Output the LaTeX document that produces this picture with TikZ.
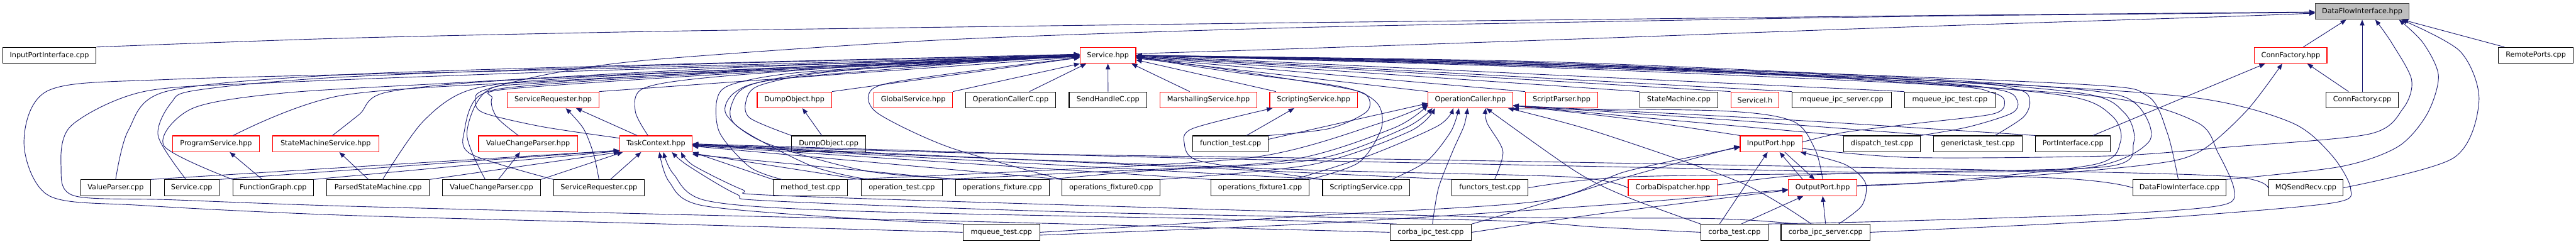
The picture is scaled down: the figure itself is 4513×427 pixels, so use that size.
\documentclass[tikz,border=0pt]{standalone}
\usepackage{fontspec}
\setmainfont{DejaVu Sans}
\usetikzlibrary{arrows.meta}
\definecolor{edgeblue}{RGB}{25,25,112}
\tikzset{
  file/.style={draw=black, line width=1.2pt, minimum height=28pt, inner sep=0pt, font=\fontsize{12.4}{14}\selectfont},
  redfile/.style={file, draw=red},
  rootfile/.style={file, draw=black!75, fill=black!25},
  inc/.style={draw=edgeblue, line width=1pt, -{Triangle[length=10pt,width=8pt]}}
}

\begin{document}
\begin{tikzpicture}[x=1pt, y=-1pt]
    \useasboundingbox (0,0) rectangle (4513,427);

    % Arquivo raiz
    \node[rootfile, minimum width=164pt] (dfih) at (4138.4,20) {DataFlowInterface.hpp};

    % Arquivos com borda vermelha
    \foreach \nm/\x/\y/\w/\txt in {
        srvh/1941/97/97.6/Service.hpp, cfh/4013.2/97/126.8/ConnFactory.hpp,
        srqh/969.2/175/160.4/ServiceRequester.hpp, doh/1391.8/175/130.5/DumpObject.hpp,
        gsh/1600/175/137.7/GlobalService.hpp, msh/2117.2/175/170/MarshallingService.hpp,
        ssh/2301.3/175/153.5/ScriptingService.hpp, och/2576/175/148/OperationCaller.hpp,
        sph/2735.8/175/126.7/ScriptParser.hpp, sih/3074.6/175/84.6/ServiceI.h,
        psh/378.5/252/152.3/ProgramService.hpp, smsh/570.5/252/185.7/StateMachineService.hpp,
        vcph/925.2/252/173.4/ValueChangeParser.hpp, tch/1149.2/252/127/TaskContext.hpp,
        iph/3102.7/252/108/InputPort.hpp,
        cdh/2930.6/329/156.2/CorbaDispatcher.hpp, oph/3193.2/329/120/OutputPort.hpp}
        \node[redfile, minimum width=\w pt] (\nm) at (\x,\y) {\txt};

    % Arquivos comuns
    \foreach \nm/\x/\y/\w/\txt in {
        ipicpp/86.5/97/164/InputPortInterface.cpp, rpcpp/4442.6/97/131.6/RemotePorts.cpp,
        occcpp/1770.5/175/157.7/OperationCallerC.cpp, shccpp/1941.2/175/136.3/SendHandleC.cpp,
        smcpp/2941.2/175/137.3/StateMachine.cpp, mqiscpp/3226.5/175/173.5/mqueue\_ipc\_server.cpp,
        mqitcpp/3416/175/159/mqueue\_ipc\_test.cpp, cfcpp/4138.4/175/126.8/ConnFactory.cpp,
        docpp/1451.7/252/129.3/DumpObject.cpp, ftcpp/2155.9/252/131.7/function\_test.cpp,
        dtcpp/3297.2/252/134.6/dispatch\_test.cpp, gtcpp/3465.1/252/155/generictask\_test.cpp,
        picpp/3631.8/252/130.9/PortInterface.cpp,
        vpcpp/202.6/329/122.8/ValueParser.cpp, srvcpp/335.8/329/96/Service.cpp,
        fgcpp/478.5/329/141/FunctionGraph.cpp, psmcpp/662.4/329/180.1/ParsedStateMachine.cpp,
        vcpcpp/861.1/329/172.2/ValueChangeParser.cpp, srqcpp/1049.3/329/158.7/ServiceRequester.cpp,
        mtcpp/1419.8/329/130.5/method\_test.cpp, otcpp/1579.9/329/142.3/operation\_test.cpp,
        ofcpp/1755.8/329/164.2/operations\_fixture.cpp, of0cpp/1946.6/329/172.2/operations\_fixture0.cpp,
        of1cpp/2207.6/329/172.4/operations\_fixture1.cpp, sscpp/2393.2/329/152.3/ScriptingService.cpp,
        fttcpp/2610.4/329/133.4/functors\_test.cpp, dficpp/3818.2/329/162.3/DataFlowInterface.cpp,
        mqsrcpp/4039.7/329/130.7/MQSendRecv.cpp,
        mqtcpp/1754.4/407/134.8/mqueue\_test.cpp, citcpp/2506.6/407/142.8/corba\_ipc\_test.cpp,
        ctcpp/3038.6/407/117.5/corba\_test.cpp, ciscpp/3198.3/407/156.1/corba\_ipc\_server.cpp}
        \node[file, minimum width=\w pt] (\nm) at (\x,\y) {\txt};

    % Dependentes de DataFlowInterface.hpp
    \draw[inc] plot[smooth] coordinates {(ipicpp.north east) (600,67) (1150,55) (1700,47) (2250,40) (2800,34) (3400,27) ([yshift=-1pt]dfih.west)};
    \draw[inc] plot[smooth] coordinates {([yshift=3pt]srvh.east) (2250,86) (2800,67) (3350,47) (3900,29) ([yshift=-3pt]dfih.west)};
    \draw[inc] plot[smooth] coordinates {([yshift=10pt]tch.west) (950,222) (848,198) (833,177) (848,158) (971,128) (1150,104) (1650,70) (2250,49) (2800,38) (3400,28) ([yshift=-2pt]dfih.west)};
    \draw[inc] ([xshift=22pt]cfh.north) -- ([xshift=-28pt]dfih.south);
    \draw[inc] (cfcpp.north) -- (dfih.south);
    \draw[inc] ([xshift=-55pt]rpcpp.north) -- ([xshift=-12pt]dfih.south east);
    \draw[inc] plot[smooth] coordinates {([yshift=-8pt]iph.east) (3350,276) (3700,273) (3900,258) (4150,235) (4210,190) (4225,140) (4190,75) ([xshift=23pt]dfih.south)};
    \draw[inc] plot[smooth] coordinates {(dficpp.north east) (4100,292) (4201,257) (4252,200) (4272,133) (4245,75) ([xshift=-18pt]dfih.south east)};
    \draw[inc] plot[smooth] coordinates {(mqsrcpp.east) (4298,277) (4343,177) (4310,90) ([xshift=-14pt]dfih.south east)};

    % Dependentes de ConnFactory.hpp
    \draw[inc] ([xshift=-24pt]cfcpp.north) -- ([xshift=29pt]cfh.south);
    \draw[inc] ([xshift=35pt]picpp.north) -- ([xshift=-45pt]cfh.south);
    \draw[inc] plot[smooth] coordinates {([yshift=4pt]oph.east) (3450,316) (3750,290) (3851,267) (3935,195) ([xshift=-15pt]cfh.south)};

    % Dependentes de Service.hpp (pela esquerda)
    \draw[inc] plot[smooth] coordinates {(vpcpp.north) (225,228) (292,160) (600,131) (1200,112) ([yshift=2pt]srvh.west)};
    \draw[inc] plot[smooth] coordinates {([xshift=-10pt]srvcpp.north) (277,238) (300,180) (345,158) (600,135) (1200,113) ([yshift=1pt]srvh.west)};
    \draw[inc] plot[smooth] coordinates {(fgcpp.north west) (287,255) (337,190) (497,163) (800,145) (1300,118) (srvh.west)};
    \draw[inc] plot[smooth] coordinates {([xshift=30pt]psh.north) (600,167) (1000,140) (1500,115) (srvh.west)};
    \draw[inc] plot[smooth] coordinates {([xshift=12pt]smsh.north) (630,200) (676,162) (900,140) (1500,113) (srvh.west)};
    \draw[inc] plot[smooth] coordinates {([xshift=8pt]psmcpp.north) (741,213) (825,157) (1000,137) (1500,113) ([yshift=-1pt]srvh.west)};
    \draw[inc] plot[smooth] coordinates {([xshift=-11pt]vcpcpp.north) (818,235) (852,160) (950,145) (1400,118) ([yshift=-1pt]srvh.west)};
    \draw[inc] plot[smooth] coordinates {([xshift=-17pt]vcph.north) (870,205) (862,172) (900,155) (1400,122) ([yshift=-2pt]srvh.west)};
    \draw[inc] plot[smooth] coordinates {(srqcpp.north west) (825,270) (814,227) (841,167) (950,148) (1400,120) ([yshift=-2pt]srvh.west)};
    \draw[inc] plot[smooth] coordinates {([xshift=-14pt]tch.north) (1113,195) (1127,155) (1250,135) (1600,110) ([yshift=-2pt]srvh.west)};
    \draw[inc] plot[smooth] coordinates {(docpp.north west) (1314,207) (1307,177) (1330,150) (1444,127) (1700,108) ([yshift=-2pt]srvh.west)};
    \draw[inc] plot[smooth] coordinates {([xshift=-50pt]mtcpp.north) (1314,293) (1261,233) (1256,175) (1282,148) (1400,127) (1700,108) ([yshift=-1pt]srvh.west)};
    \draw[inc] plot[smooth] coordinates {([xshift=-60pt]otcpp.north) (1420,290) (1290,220) (1285,175) (1320,147) (1450,125) (1750,107) (srvh.west)};
    \draw[inc] plot[smooth] coordinates {([xshift=-60pt]ofcpp.north) (1520,300) (1340,250) (1272,200) (1290,160) (1370,138) (1700,110) ([yshift=1pt]srvh.west)};
    \draw[inc] plot[smooth] coordinates {(of0cpp.north west) (1663,258) (1540,200) (1522,165) (1560,145) (1750,118) ([yshift=-4pt]srvh.west)};
    \draw[inc] plot[smooth] coordinates {(mqtcpp.west) (1150,392) (600,377) (250,360) (86,343) (42,250) (86,158) (300,139) (900,124) (1500,108) ([yshift=1pt]srvh.west)};
    \draw[inc] plot[smooth] coordinates {(citcpp.west) (1700,388) (1150,375) (600,361) (300,350) (130,343) (107,293) (125,220) (254,160) (500,144) (1000,125) (1500,110) ([yshift=2pt]srvh.west)};
    \draw[inc] (srqh.north east) -- ([yshift=-3pt]srvh.west);
    \draw[inc] (doh.north east) -- ([yshift=-4pt]srvh.west);
    \draw[inc] (gsh.north east) -- (srvh.south west);
    \draw[inc] ([xshift=33pt]occcpp.north) -- ([xshift=-38pt]srvh.south);
    \draw[inc] (shccpp.north) -- (srvh.south);

    % Dependentes de Service.hpp (pela direita)
    \draw[inc] ([xshift=-33pt]msh.north) -- ([xshift=-8pt]srvh.south east);
    \draw[inc] ([xshift=-66pt]ssh.north) -- ([yshift=-8pt]srvh.east);
    \foreach \a/\s in {och/-5, sph/-4, smcpp/-3, sih/-2, mqiscpp/-1, mqitcpp/0}
        \draw[inc] (\a.north west) -- ([yshift=\s pt]srvh.east);
    \draw[inc] plot[smooth] coordinates {(of1cpp.north east) (2380,285) (2420,225) (2412,180) (2350,152) (2150,125) ([yshift=-3pt]srvh.east)};
    \draw[inc] plot[smooth] coordinates {(ftcpp.north east) (2330,225) (2395,195) (2392,165) (2330,150) (2150,122) ([yshift=-2pt]srvh.east)};
    \draw[inc] plot[smooth] coordinates {([xshift=-2pt]dficpp.north) (3797,233) (3762,168) (3650,148) (3000,122) (2300,103) (srvh.east)};
    \draw[inc] plot[smooth] coordinates {([xshift=30pt]gtcpp.north) (3545,205) (3556,177) (3535,157) (3400,142) (2700,115) (srvh.east)};
    \draw[inc] plot[smooth] coordinates {(dtcpp.north east) (3450,222) (3525,198) (3534,176) (3505,158) (3350,142) (2700,116) (srvh.east)};
    \draw[inc] plot[smooth] coordinates {([yshift=3pt]iph.east) (3230,232) (3350,217) (3490,200) (3512,180) (3492,163) (3380,148) (2700,118) (srvh.east)};
    \draw[inc] plot[smooth] coordinates {([yshift=3pt]oph.east) (3400,318) (3670,288) (3715,248) (3700,203) (3620,168) (3300,140) (2700,113) (srvh.east)};
    \draw[inc] plot[smooth] coordinates {([yshift=5pt]cdh.east) (3130,309) (3300,302) (3690,292) (3738,250) (3722,198) (3645,163) (3300,136) (2700,110) (srvh.east)};
    \draw[inc] plot[smooth] coordinates {(fttcpp.east) (2850,310) (3300,303) (3650,295) (3765,248) (3742,182) (3655,158) (3300,134) (2700,108) (srvh.east)};
    \draw[inc] plot[smooth] coordinates {(ciscpp.east) (3600,392) (3850,377) (4090,355) (4118,330) (4085,272) (4015,215) (3850,172) (3500,147) (2700,112) (srvh.east)};
    \draw[inc] plot[smooth] coordinates {(ctcpp.north east) (3300,388) (3700,375) (3890,360) (3914,333) (3886,268) (3850,215) (3700,172) (3300,142) (2700,110) (srvh.east)};

    % Dependentes de ServiceRequester.hpp, DumpObject.hpp, ProgramService.hpp ...
    \draw[inc] ([xshift=-33pt]tch.north) -- ([xshift=40pt]srqh.south);
    \draw[inc] plot[smooth] coordinates {(srqcpp.north) (1040,270) (1022,225) ([xshift=22pt]srqh.south)};
    \draw[inc] ([xshift=-12pt]docpp.north) -- ([xshift=14pt]doh.south);
    \draw[inc] ([xshift=-19pt]fgcpp.north) -- ([xshift=24pt]psh.south);
    \draw[inc] ([xshift=-17pt]psmcpp.north) -- ([xshift=24pt]smsh.south);
    \draw[inc] ([xshift=12pt]vcpcpp.north) -- ([xshift=-14pt]vcph.south);

    % Dependentes de ScriptingService.hpp
    \draw[inc] ([xshift=28pt]ftcpp.north) -- ([xshift=-34pt]ssh.south);
    \draw[inc] plot[smooth] coordinates {(sscpp.north west) (2200,298) (2095,280) (2075,252) (2090,225) ([xshift=-72pt]ssh.south)};

    % Dependentes de TaskContext.hpp
    \draw[inc] (vpcpp.north east) -- ([yshift=3pt]tch.south west);
    \draw[inc] (srvcpp.north east) -- ([yshift=3pt]tch.south west);
    \draw[inc] (fgcpp.north east) -- ([yshift=2pt]tch.south west);
    \draw[inc] (psmcpp.north east) -- (tch.south west);
    \draw[inc] (vcpcpp.north east) -- ([xshift=6pt]tch.south west);
    \draw[inc] ([xshift=20pt]srqcpp.north) -- ([xshift=-26pt]tch.south);
    \draw[inc] plot[smooth] coordinates {(mqtcpp.north west) (1500,383) (1230,360) (1172,318) ([xshift=6pt]tch.south)};
    \draw[inc] plot[smooth] coordinates {([xshift=-60pt]citcpp.north) (2200,385) (1500,370) (1240,352) (1180,305) ([xshift=13pt]tch.south)};
    \draw[inc] plot[smooth] coordinates {(ctcpp.west) (2800,398) (2600,386) (1900,372) (1350,352) (1290,340) (1205,290) ([xshift=28pt]tch.south)};
    \draw[inc] plot[smooth] coordinates {([xshift=-50pt]ciscpp.north) (3000,383) (2600,380) (1900,360) (1350,342) (1300,332) (1215,290) ([xshift=44pt]tch.south)};
    \foreach \a/\s in {mtcpp/0, otcpp/-2, ofcpp/-4}
        \draw[inc] (\a.north west) -- ([yshift=\s pt]tch.south east);
    \foreach \a/\s in {of0cpp/-4, of1cpp/-3, sscpp/-2, fttcpp/-1}
        \draw[inc] (\a.north west) -- ([yshift=\s pt]tch.east);
    \draw[inc] plot[smooth] coordinates {(cdh.west) (2750,310) (2300,298) (1600,272) ([yshift=-2pt]tch.east)};
    \draw[inc] plot[smooth] coordinates {(dficpp.west) (3600,312) (3000,296) (2000,275) (tch.east)};
    \draw[inc] plot[smooth] coordinates {(mqsrcpp.west) (3905,309) (3500,298) (2500,280) (1700,268) ([yshift=-1pt]tch.east)};

    % Dependentes de OperationCaller.hpp
    \draw[inc] ([yshift=8pt]ftcpp.east) -- ([yshift=-6pt]och.west);
    \draw[inc] plot[smooth] coordinates {(mtcpp.north east) (1800,300) (2200,275) (2420,215) ([yshift=-8pt]och.west)};
    \draw[inc] plot[smooth] coordinates {(otcpp.north east) (1900,302) (2250,282) (2440,225) ([yshift=-9pt]och.west)};
    \draw[inc] plot[smooth] coordinates {(ofcpp.north east) (2000,300) (2300,280) (2460,225) ([xshift=8pt]och.south west)};
    \draw[inc] plot[smooth] coordinates {(of0cpp.north east) (2300,288) (2470,230) ([xshift=-62pt]och.south)};
    \draw[inc] plot[smooth] coordinates {([xshift=60pt]of1cpp.north) (2400,272) (2520,220) ([xshift=-30pt]och.south)};
    \draw[inc] plot[smooth] coordinates {([xshift=45pt]sscpp.north) (2500,282) (2542,230) ([xshift=-20pt]och.south)};
    \draw[inc] plot[smooth] coordinates {([xshift=3pt]citcpp.north) (2520,330) (2545,265) (2565,220) ([xshift=-5pt]och.south)};
    \draw[inc] plot[smooth] coordinates {([xshift=8pt]fttcpp.north) (2633,265) (2605,215) ([xshift=27pt]och.south)};
    \draw[inc] plot[smooth] coordinates {(ctcpp.north west) (2850,345) (2760,300) ([xshift=28pt]och.south)};
    \draw[inc] plot[smooth] coordinates {([xshift=-25pt]ciscpp.north) (3050,320) (2800,232) ([xshift=66pt]och.south)};
    \draw[inc] plot[smooth] coordinates {(oph.north) (3180,262) (3140,212) (3010,194) ([yshift=-1pt]och.south east)};
    \foreach \a/\x in {iph/2850, dtcpp/2900, gtcpp/3000, picpp/3100}
        \draw[inc] plot[smooth] coordinates {(\a.north west) (\x,208) ([yshift=-10pt]och.east)};

    % Dependentes de InputPort.hpp
    \draw[inc] plot[smooth] coordinates {(mqtcpp.east) (2300,378) (2700,352) (2850,300) ([yshift=-6pt]iph.west)};
    \draw[inc] plot[smooth] coordinates {(citcpp.north east) (2700,357) (2850,310) ([yshift=-4pt]iph.west)};
    \draw[inc] ([xshift=-26pt]ctcpp.north) -- ([xshift=-6pt]iph.south);
    \draw[inc] ([xshift=-35pt]oph.north) -- ([xshift=15pt]iph.south);
    \draw[inc] plot[smooth] coordinates {([xshift=23pt]ciscpp.north) (3262,360) (3268,320) (3232,288) ([xshift=-3pt]iph.south east)};

    % Dependentes de OutputPort.hpp
    \draw[inc] ([xshift=24pt]iph.south) -- ([xshift=-14pt]oph.north);
    \draw[inc] plot[smooth] coordinates {([yshift=-5pt]mqtcpp.east) (2300,392) (2800,360) ([yshift=-3pt]oph.west)};
    \draw[inc] plot[smooth] coordinates {(citcpp.east) (2800,375) ([yshift=-4pt]oph.west)};
    \draw[inc] ([xshift=12pt]ctcpp.north) -- ([xshift=-34pt]oph.south);
    \draw[inc] (ciscpp.north) -- (oph.south);
\end{tikzpicture}
\end{document}
